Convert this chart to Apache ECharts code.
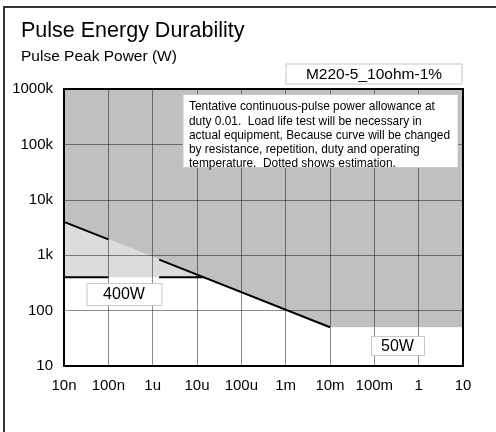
<!DOCTYPE html>
<html>
<head>
<meta charset="utf-8">
<script src="https://cdn.jsdelivr.net/npm/echarts@6/dist/echarts.min.js"></script>
<style>html,body{margin:0;padding:0;background:#fff;}#c{width:496px;height:432px;}</style>
</head>
<body>
<div id="c"></div>
<script>
// ---- data ----
var xTickLabels = ['10n','100n','1u','10u','100u','1m','10m','100m','1','10'];
var yTickLabels = ['10','100','1k','10k','100k','1000k'];
// whole allowed region top (fill background)
var topEdge = [[1e-8, 1e6], [10, 1e6]];
// durability curve (boundary of gray region)
var curve = [[1e-8, 4000], [1e-2, 50], [10, 50]];
// lower boundary of light gray region (400W line then curve)
var lowerEdge = [[1e-8, 400], [1.4e-5, 400], [1e-2, 50], [10, 50]];
// solid (measured) parts of the curve
var curveSolid1 = [[1e-8, 4000], [1e-7, 1930]];
var curveSolid2 = [[1.4e-6, 830], [1e-2, 50]];
var curveDotted = [[1e-7, 1930], [1.4e-6, 830]];
// 400W line parts
var line400Solid1 = [[1e-8, 400], [1e-7, 400]];
var line400Solid2 = [[1.4e-6, 400], [1.4e-5, 400]];
var line400Dotted = [[1e-7, 400], [1.4e-6, 400]];

var noteText = 'Tentative continuous-pulse power allowance at\nduty 0.01.  Load life test will be necessary in\nactual equipment, Because curve will be changed\nby resistance, repetition, duty and operating\ntemperature.  Dotted shows estimation.';

var FONT = '"Liberation Sans", Arial, sans-serif';
var chart = echarts.init(document.getElementById('c'), null, {renderer: 'canvas'});

function areaSeries(data, color) {
  return {type: 'line', data: data, symbol: 'none', silent: true,
    lineStyle: {width: 0, color: color}, itemStyle: {color: color},
    areaStyle: {color: color, opacity: 1, origin: 'start'}, z: 1, animation: false};
}
function lineSeries(data, color, type, width) {
  return {type: 'line', data: data, symbol: 'none', silent: true,
    lineStyle: {width: width, color: color, type: type}, itemStyle: {color: color}, z: 3, animation: false};
}

var option = {
  animation: false,
  title: {
    text: 'Pulse Energy Durability', subtext: 'Pulse Peak Power (W)',
    left: 21, top: 20, padding: 0, itemGap: 7,
    textStyle: {fontFamily: FONT, fontSize: 21.5, fontWeight: 'normal', color: '#000'},
    subtextStyle: {fontFamily: FONT, fontSize: 15.5, color: '#000'}
  },
  grid: {left: 64, top: 89, width: 399, height: 277},
  xAxis: [{
    type: 'log', logBase: 10, min: 1e-8, max: 10, splitNumber: 9, z: 10,
    axisLine: {show: true, lineStyle: {color: '#000', width: 2}},
    axisTick: {show: false},
    axisLabel: {margin: 12, color: '#000', fontFamily: FONT, fontSize: 15,
      formatter: function (v) { return xTickLabels[Math.round(Math.log10(v)) + 8]; }},
    splitLine: {show: true, lineStyle: {color: 'rgba(0,0,0,0.45)', width: 1}}
  }, {
    type: 'log', logBase: 10, min: 1e-8, max: 10, position: 'top', z: 10,
    axisLine: {show: true, lineStyle: {color: '#000', width: 2}},
    axisTick: {show: false}, axisLabel: {show: false}, splitLine: {show: false}
  }],
  yAxis: [{
    type: 'log', logBase: 10, min: 10, max: 1e6, splitNumber: 5, z: 10,
    axisLine: {show: true, lineStyle: {color: '#000', width: 2}},
    axisTick: {show: false},
    axisLabel: {margin: 11, color: '#000', fontFamily: FONT, fontSize: 15,
      formatter: function (v) { return yTickLabels[Math.round(Math.log10(v)) - 1]; }},
    splitLine: {show: true, lineStyle: {color: 'rgba(0,0,0,0.45)', width: 1}}
  }, {
    type: 'log', logBase: 10, min: 10, max: 1e6, position: 'right', z: 10,
    axisLine: {show: true, lineStyle: {color: '#000', width: 2}},
    axisTick: {show: false}, axisLabel: {show: false}, splitLine: {show: false}
  }],
  series: [
    areaSeries(topEdge, '#c0c0c0'),
    areaSeries(curve, '#dcdcdc'),
    areaSeries(lowerEdge, '#ffffff'),
    lineSeries(curveDotted, '#ececec', 'dotted', 1),
    lineSeries(line400Dotted, '#ececec', 'dotted', 1),
    lineSeries(curveSolid1, '#000', 'solid', 2),
    lineSeries(curveSolid2, '#000', 'solid', 2),
    lineSeries(line400Solid1, '#000', 'solid', 2),
    lineSeries(line400Solid2, '#000', 'solid', 2)
  ],
  graphic: {elements: [
    {type: 'rect', shape: {x: 4, y: 7, width: 600, height: 600}, z: 100,
      style: {fill: 'none', stroke: '#333', lineWidth: 2}, silent: true},
    {type: 'rect', shape: {x: 286, y: 64, width: 176, height: 20}, z: 100,
      style: {fill: '#fff', stroke: '#c8c8c8', lineWidth: 1}, silent: true},
    {type: 'text', x: 374, y: 74.5, z: 101, silent: true,
      style: {text: 'M220-5_10ohm-1%', fill: '#000', font: '15.5px ' + FONT, textAlign: 'center', textVerticalAlign: 'middle'}},
    {type: 'rect', shape: {x: 183, y: 94.5, width: 275, height: 73}, z: 100,
      style: {fill: '#fff', stroke: '#c8c8c8', lineWidth: 1}, silent: true},
    {type: 'text', x: 189, y: 100, z: 101, silent: true,
      style: {text: noteText, fill: '#000', font: '11.9px ' + FONT, lineHeight: 14.2, textAlign: 'left', textVerticalAlign: 'top'}},
    {type: 'rect', shape: {x: 87, y: 283.5, width: 75, height: 22}, z: 100,
      style: {fill: '#fff', stroke: '#c8c8c8', lineWidth: 1}, silent: true},
    {type: 'text', x: 124, y: 295, z: 101, silent: true,
      style: {text: '400W', fill: '#000', font: '16px ' + FONT, textAlign: 'center', textVerticalAlign: 'middle'}},
    {type: 'rect', shape: {x: 371.5, y: 336.5, width: 53, height: 19}, z: 100,
      style: {fill: '#fff', stroke: '#c8c8c8', lineWidth: 1}, silent: true},
    {type: 'text', x: 397.5, y: 346.5, z: 101, silent: true,
      style: {text: '50W', fill: '#000', font: '16px ' + FONT, textAlign: 'center', textVerticalAlign: 'middle'}}
  ]}
};
chart.setOption(option);
</script>
</body>
</html>
